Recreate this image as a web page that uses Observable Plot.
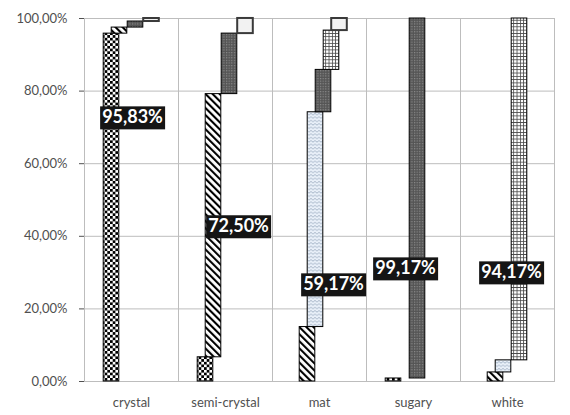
<!DOCTYPE html>
<html><head><meta charset="utf-8">
<script src="https://cdn.jsdelivr.net/npm/d3@7"></script>
<script src="https://cdn.jsdelivr.net/npm/@observablehq/plot@0.6"></script>
<style>body{margin:0;background:#fff}</style>
</head><body>
<svg width="0" height="0" style="position:absolute">
<defs>
<pattern id="pCheck" width="5.4" height="5.4" patternUnits="userSpaceOnUse">
  <rect width="5.4" height="5.4" fill="#fff"/>
  <rect width="2.7" height="2.7" fill="#000"/>
  <rect x="2.7" y="2.7" width="2.7" height="2.7" fill="#000"/>
</pattern>
<pattern id="pDiag" width="5" height="5" patternUnits="userSpaceOnUse" patternTransform="rotate(-45)">
  <rect width="5" height="5" fill="#fff"/>
  <rect width="2.1" height="5" fill="#000"/>
</pattern>
<pattern id="pWave" width="4" height="3.4" patternUnits="userSpaceOnUse">
  <rect width="4" height="3.4" fill="#e9f0f9"/>
  <path d="M0,2 q1,-1.6 2,0 t2,0" fill="none" stroke="#8a9bb2" stroke-width="0.7"/>
</pattern>
<pattern id="pDots" width="2.6" height="2.6" patternUnits="userSpaceOnUse">
  <rect width="2.6" height="2.6" fill="#555"/>
  <rect width="1.2" height="1.2" fill="#8c8c8c"/>
</pattern>
<pattern id="pGrid" width="3.3" height="3.3" patternUnits="userSpaceOnUse">
  <rect width="3.3" height="3.3" fill="#fff"/>
  <path d="M0,0.4H3.3M0.4,0V3.3" stroke="#4a4a4a" stroke-width="0.9"/>
</pattern>
</defs>
</svg>
<div id="chart"></div>
<script>
const categories = ["crystal", "semi-crystal", "mat", "sugary", "white"];
const series = ["crystal", "semi-crystal", "mat", "sugary", "white", "other"];
// percent of each true class (category) assigned to each predicted series
const crystalRow = [95.83, 1.67, 0, 1.67, 0, 0.83];
const semiCrystalRow = [6.67, 72.50, 0, 16.67, 0, 4.17];
const matRow = [0, 15.00, 59.17, 11.67, 10.83, 3.33];
const sugaryRow = [0.83, 0, 0, 99.17, 0, 0];
const whiteRow = [0, 2.50, 3.33, 0, 94.17, 0];
const correctRates = [95.83, 72.50, 59.17, 99.17, 94.17];
const labelY = [72.7, 42.7, 26.7, 31.1, 30.0];
const labelDx = [1, 13, 14, -8, 4];
const yTicks = [0, 20, 40, 60, 80, 100];

const rowsByCat = [crystalRow, semiCrystalRow, matRow, sugaryRow, whiteRow];
const fills = {
  "crystal": "url(#pCheck)", "semi-crystal": "url(#pDiag)", "mat": "url(#pWave)",
  "sugary": "url(#pDots)", "white": "url(#pGrid)", "other": "#f2f2f2"
};
const bars = [];
categories.forEach((c, i) => {
  let cum = 0;
  series.forEach((s, j) => {
    const v = rowsByCat[i][j];
    if (v > 0) bars.push({category: c, series: s, y1: cum, y2: cum + v});
    cum += v;
  });
});
const fmt = v => v.toFixed(2).replace(".", ",") + "%";
const labels = categories.map((c, i) => ({category: c, y: labelY[i], text: fmt(correctRates[i])}));

const plot = Plot.plot({
  width: 570, height: 415,
  marginLeft: 82, marginRight: 14, marginTop: 18, marginBottom: 34,
  style: {fontFamily: "Lato", fontSize: "13px", color: "#505050", background: "#fff", overflow: "visible"},
  fx: {domain: categories, padding: 0, label: null, axis: "bottom", tickSize: 0, tickPadding: 16},
  x: {domain: series, paddingInner: 0, paddingOuter: 2.51, axis: null},
  y: {domain: [0, 100], ticks: yTicks, tickFormat: fmt, label: null, tickSize: 5, tickPadding: 12},
  color: {type: "identity"},
  marks: [
    Plot.gridY(yTicks, {stroke: "#bdbdbd", strokeOpacity: 1}),
    Plot.frame({stroke: "#bdbdbd"}),
    Plot.barY(bars, {
      fx: "category", x: "series", y1: "y1", y2: "y2",
      fill: d => fills[d.series],
      stroke: d => d.series === "other" ? "#3a3a3a" : "#000",
      strokeWidth: d => d.series === "other" ? 2 : 1,
      insetLeft: -3.8, insetRight: -3.8
    }),
    ...labels.map((l, i) => Plot.text([l], {
      fx: "category", y: "y", text: "text", dx: labelDx[i],
      fill: "#fff", fontWeight: "bold", fontSize: 18, className: "lbl"
    }))
  ]
});
document.getElementById("chart").appendChild(plot);

// black boxes behind the percentage labels
plot.querySelectorAll(".lbl text").forEach(t => {
  const b = t.getBBox();
  const r = document.createElementNS("http://www.w3.org/2000/svg", "rect");
  r.setAttribute("x", b.x - 2);
  r.setAttribute("y", b.y + 1);
  r.setAttribute("width", b.width + 4);
  r.setAttribute("height", b.height + 1);
  r.setAttribute("fill", "#151515");
  if (t.getAttribute("transform")) r.setAttribute("transform", t.getAttribute("transform"));
  t.parentNode.insertBefore(r, t);
});
</script>
</body></html>
